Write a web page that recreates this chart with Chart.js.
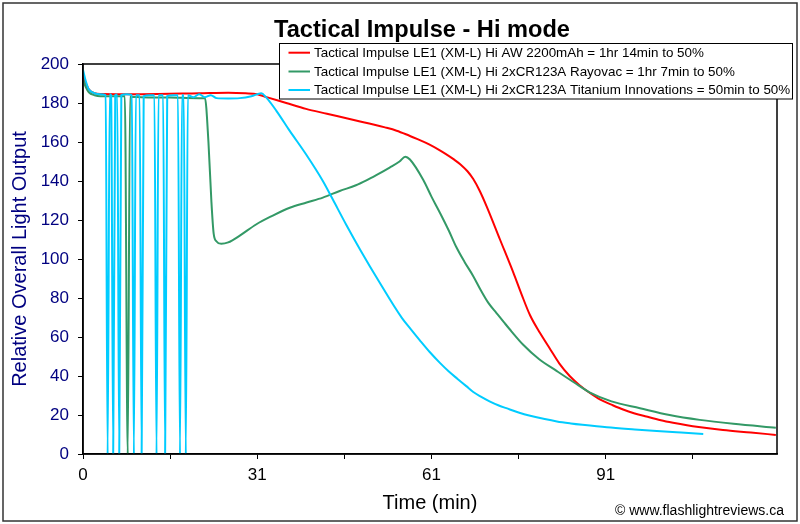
<!DOCTYPE html>
<html>
<head>
<meta charset="utf-8">
<title>Tactical Impulse - Hi mode</title>
<script src="https://cdn.jsdelivr.net/npm/chart.js@4.4.1/dist/chart.umd.min.js"></script>
<style>
    html, body { margin: 0; padding: 0; background: #fff; }
</style>
</head>
<body>
<canvas id="chart" width="800" height="524"></canvas>
<script>
// runtime data (minutes / relative output)
const seriesNames = [
    "Tactical Impulse LE1 (XM-L) Hi AW 2200mAh = 1hr 14min to 50%",
    "Tactical Impulse LE1 (XM-L) Hi 2xCR123A Rayovac = 1hr 7min to 50%",
    "Tactical Impulse LE1 (XM-L) Hi 2xCR123A Titanium Innovations = 50min to 50%"
];

const redTime = [0, 0.5, 1, 2, 3, 10, 20, 25, 28, 30, 31.6, 35, 38.4, 42, 47, 50, 52, 54, 55.6, 57.5,
    59.6, 61.3, 62.5, 63.8, 65, 66.2, 67.2, 68.3, 69.5, 71.8, 74.1, 75.5, 77, 78.7, 80.5, 82, 83.8, 85.5, 87.3, 89,
    91, 93, 95, 97, 99.5, 101.6, 104, 106, 110.2, 115, 119.3];
const redLevel = [194, 190, 187, 185, 184.6, 184.5, 185, 185.3, 185, 184.5, 183, 180, 177, 174.5, 171, 169, 167.5, 165.8, 164, 161.6,
    158.8, 156, 153.8, 151.2, 148.5, 145, 141, 135, 127, 110, 93, 82, 71, 62, 53.5, 46.5, 40, 35.3, 31.3, 28,
    25.3, 22.8, 20.8, 19.2, 17.3, 16, 14.7, 13.8, 12.3, 11, 9.8];

const greenTime = [0, 0.5, 1, 2, 3, 5, 7.2, 7.7, 8.1, 10, 15, 20, 21, 21.6, 22.1, 22.5, 23, 23.8, 25, 27,
    29.8, 32.5, 35.6, 38.5, 41.3, 44.2, 47, 48.8, 50.5, 52.8, 54.5, 55.5, 56.3, 58.6, 60, 61.5, 63, 64.3, 65.7, 67.2,
    68.5, 69.8, 71.2, 72.5, 73.8, 75.8, 78.5, 81.6, 84.5, 87.3, 91, 95.9, 101, 106.2, 112, 119.3];
const greenLevel = [192, 188, 185.5, 184, 183.5, 183.5, 183.5, 0, 183.2, 183, 182.8, 182.5, 182.5, 160, 130, 113, 109, 107.8, 108.5, 112,
    117.7, 122, 126.3, 129, 131.5, 134.9, 137.8, 140.3, 143, 146.9, 150, 152.5, 151, 140.5, 132, 123.5, 114.5, 106, 98.5, 91.2,
    84, 77.5, 72.3, 67.5, 62.8, 56, 48.7, 42.5, 36.8, 31.5, 27, 23.5, 20, 17.5, 15.5, 13.5];

const cyanTime = [0, 0.5, 1, 2, 3,
    3.9, 4.24, 4.6, 4.85, 5.2, 5.55, 5.9, 6.24, 6.6, 7.5,
    8.4, 8.76, 9.1, 9.75, 10.1, 10.45, 11.5,
    12.3, 12.66, 13.0, 13.8, 14.14, 14.5, 15.5,
    16.35, 16.7, 17.05, 17.35, 17.7, 18.05,
    19, 20, 21, 22, 23, 25, 27, 29, 30.7, 31.5, 33.3, 35.6, 38.4, 41.3, 43, 45.3, 47.7, 51.1, 54.9,
    56.5, 58, 59.7, 61.5, 63, 64.5, 66, 67.2, 68.5, 70, 71.5, 72.9, 75, 77, 79.5, 81.6, 84, 86, 90.2, 95, 98.8, 103, 106.8];
const cyanLevel = [197, 191, 187, 185, 184.5,
    184, 0, 184.5, 184, 0, 184, 184.3, 0, 184, 184.5,
    184, 0, 184, 184, 0, 183.5, 184,
    184, 0, 184, 184, 0, 183.5, 184,
    184, 0, 184, 184, 0, 184,
    183, 184.5, 183, 184, 182.5, 182.3, 182.5, 183.5, 185, 183, 176, 165.7, 153.7, 140, 130.6, 117.7, 104.9, 87.8, 69.8,
    63.8, 58.3, 52.3, 46.6, 42.3, 38.5, 34.8, 31.8, 29.4, 27, 25, 23.5, 21.3, 19.6, 17.9, 16.7, 15.7, 15, 13.7, 12.6, 11.8, 11, 10.3];

const xTickLabels = ["0", "31", "61", "91"];

const colors = ["#ff0000", "#339966", "#00ccff"];
const FONT = "'Liberation Sans', Arial, sans-serif";

function toPoints(times, levels) {
    return times.map((t, i) => ({ x: t, y: levels[i] }));
}

// frame, title, legend box and credit drawn straight on the canvas
const decorations = {
    id: "decorations",
    afterDraw(chart) {
        const ctx = chart.ctx;
        const area = chart.chartArea;
        ctx.save();

        ctx.strokeStyle = "#000";
        ctx.lineWidth = 1.5;
        ctx.strokeRect(area.left, area.top, area.right - area.left, area.bottom - area.top);

        ctx.fillStyle = "#000";
        ctx.font = "bold 23.6px " + FONT;
        ctx.textAlign = "center";
        ctx.textBaseline = "alphabetic";
        ctx.fillText("Tactical Impulse - Hi mode", 422, 37);

        // legend
        const box = { x: 279.5, y: 43.5, w: 513, h: 55.5 };
        ctx.fillStyle = "#fff";
        ctx.fillRect(box.x, box.y, box.w, box.h);
        ctx.strokeStyle = "#000";
        ctx.lineWidth = 1;
        ctx.strokeRect(box.x, box.y, box.w, box.h);
        ctx.font = "13.4px " + FONT;
        ctx.textAlign = "left";
        ctx.textBaseline = "middle";
        const rows = [52.7, 71.5, 90];
        chart.data.datasets.forEach((ds, i) => {
            ctx.strokeStyle = ds.borderColor;
            ctx.lineWidth = 2;
            ctx.beginPath();
            ctx.moveTo(288.5, rows[i]);
            ctx.lineTo(310, rows[i]);
            ctx.stroke();
            ctx.fillStyle = "#000";
            ctx.fillText(ds.label, 314, rows[i] + 0.5);
        });

        ctx.font = "14px " + FONT;
        ctx.textAlign = "right";
        ctx.textBaseline = "middle";
        ctx.fillText("\u00a9 www.flashlightreviews.ca", 784, 511);

        ctx.strokeStyle = "#333";
        ctx.lineWidth = 1.5;
        ctx.strokeRect(3, 3, 794, 518);
        ctx.restore();
    }
};

new Chart(document.getElementById("chart"), {
    type: "line",
    data: {
        datasets: [
            { label: seriesNames[0], data: toPoints(redTime, redLevel), borderColor: colors[0], order: 2 },
            { label: seriesNames[1], data: toPoints(greenTime, greenLevel), borderColor: colors[1], order: 1 },
            { label: seriesNames[2], data: toPoints(cyanTime, cyanLevel), borderColor: colors[2], order: 0 }
        ]
    },
    options: {
        responsive: false,
        animation: false,
        devicePixelRatio: 1,
        layout: { padding: { top: 64, right: 23, bottom: 0, left: 0 } },
        elements: {
            point: { radius: 0 },
            line: { borderWidth: 2, cubicInterpolationMode: "monotone", fill: false }
        },
        plugins: {
            legend: { display: false },
            tooltip: { enabled: false }
        },
        scales: {
            x: {
                type: "linear",
                min: 0,
                max: 119.5,
                afterFit: (scale) => { scale.height = 70; },
                border: { display: true, color: "#000", width: 1.5 },
                grid: { drawOnChartArea: false, drawTicks: true, tickLength: 5, color: "#000" },
                ticks: {
                    stepSize: 15,
                    includeBounds: false,
                    autoSkip: false,
                    maxRotation: 0,
                    padding: 6,
                    color: "#000",
                    font: { family: FONT, size: 17 },
                    callback: (v) => (v % 30 === 0 ? xTickLabels[v / 30] : "")
                },
                title: {
                    display: true,
                    text: "Time (min)",
                    color: "#000",
                    font: { family: FONT, size: 20 },
                    padding: { top: 0, bottom: 9 }
                }
            },
            y: {
                min: 0,
                max: 200,
                afterFit: (scale) => { scale.width = 83; },
                border: { display: true, color: "#000", width: 1.5 },
                grid: { drawOnChartArea: false, drawTicks: true, tickLength: 5, color: "#000" },
                ticks: {
                    stepSize: 20,
                    padding: 9,
                    color: "#000080",
                    font: { family: FONT, size: 17 }
                },
                title: {
                    display: true,
                    text: "Relative Overall Light Output",
                    color: "#000080",
                    font: { family: FONT, size: 20 },
                    padding: { top: 8, bottom: 0 }
                }
            }
        }
    },
    plugins: [decorations]
});
</script>
</body>
</html>
